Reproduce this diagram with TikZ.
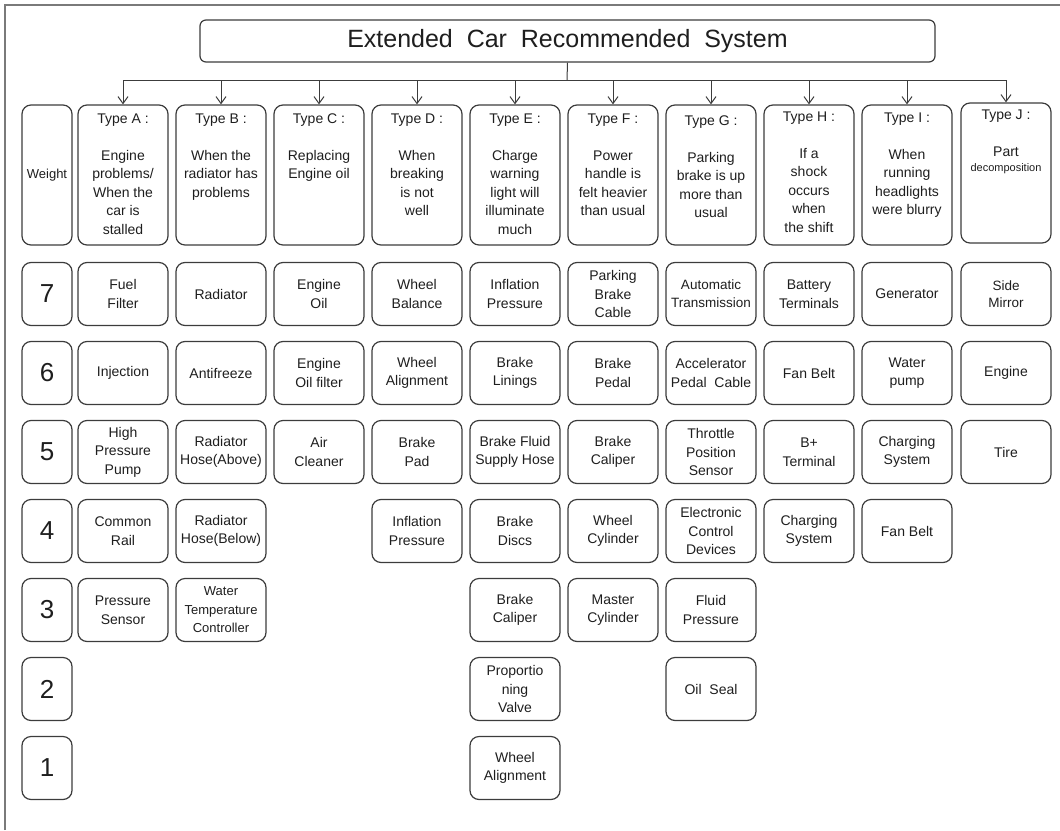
\documentclass[tikz,border=0pt]{standalone}
\usepackage{fontspec}
\setmainfont{Liberation Sans}
\usetikzlibrary{arrows.meta, positioning}
\definecolor{boxline}{HTML}{3C3C3C}
\definecolor{txt}{HTML}{1E1E1E}
\definecolor{frame}{HTML}{7A7A7A}
\newcommand{\fs}[2]{\fontsize{#1}{#2}\selectfont}

\begin{document}
\begin{tikzpicture}[x=1pt, y=-1pt,
    box/.style={draw=boxline, line width=1.2pt, rounded corners=9pt, minimum width=90pt, minimum height=63pt,
        align=center, text=txt, font=\fs{14}{18.5}, inner sep=1pt},
    weightbox/.style={box, minimum width=50pt, font=\fs{26}{30}},
    typebox/.style={box, minimum height=140pt},
    typetext/.style={align=center, text=txt, font=\fs{14}{18.5}, inner sep=0pt},
    link/.style={draw=boxline, line width=1pt},
    arr/.style={link, -{Straight Barb[length=7pt, width=10pt]}},
]
    \useasboundingbox (0,0) rectangle (1060,830);

    % Frame
    \draw[frame, line width=1.2pt] (5,830) -- (5,5) -- (1060,5);

    % Title
    \node[box, minimum width=735pt, minimum height=42pt, rounded corners=6pt, font=\fs{25}{30}] (title) at (567.5,41)
        {Extended\ \ Car\ \ Recommended\ \ System};
    \coordinate (bus) at (567,80);

    % Type headers
    \node[box, minimum width=50pt, minimum height=140pt, font=\fs{13}{16}] (weight) at (47,175) {Weight};
    \node[typebox] (tA) at (123,175) {};
    \node[typebox] (tB) at (221,175) {};
    \node[typebox] (tC) at (319,175) {};
    \node[typebox] (tD) at (417,175) {};
    \node[typebox] (tE) at (515,175) {};
    \node[typebox] (tF) at (613,175) {};
    \node[typebox] (tG) at (711,175) {};
    \node[typebox] (tH) at (809,175) {};
    \node[typebox] (tI) at (907,175) {};
    \node[typebox] (tJ) at (1006,173) {};

    \node[typetext, below=9pt of tA.north] (xA) {Type A :\\[18.5pt]Engine\\problems/\\When the\\car is\\stalled};
    \node[typetext, below=9pt of tB.north] (xB) {Type B :\\[18.5pt]When the\\radiator has\\problems};
    \node[typetext, below=9pt of tC.north] (xC) {Type C :\\[18.5pt]Replacing\\Engine oil};
    \node[typetext, below=9pt of tD.north] (xD) {Type D :\\[18.5pt]When\\breaking\\is not\\well};
    \node[typetext, below=9pt of tE.north] (xE) {Type E :\\[18.5pt]Charge\\warning\\light will\\illuminate\\much};
    \node[typetext, below=9pt of tF.north] (xF) {Type F :\\[18.5pt]Power\\handle is\\felt heavier\\than usual};
    \node[typetext, below=11pt of tG.north] (xG) {Type G :\\[18.5pt]Parking\\brake is up\\more than\\usual};
    \node[typetext, below=7pt of tH.north] (xH) {Type H :\\[18.5pt]If a\\shock\\occurs\\when\\the shift};
    \node[typetext, below=8pt of tI.north] (xI) {Type I :\\[18.5pt]When\\running\\headlights\\were blurry};
    \node[typetext, below=7pt of tJ.north] (xJ) {Type J :\\[18.5pt]Part\\[-3pt]{\fs{11}{13}decomposition}};

    % Connectors
    \draw[link] (title.south) -- (bus);
    \draw[link] (tA|-bus) -- (tJ|-bus);
    \foreach \t in {A,...,J}
        \draw[arr] (t\t|-bus) -- (t\t.north);

    % Weights
    \foreach \w/\y in {7/294, 6/373, 5/452, 4/531, 3/610, 2/689, 1/768}
        \node[weightbox] (w\w) at (47,\y) {\w};

    % Type A
    \node[box] (a7) at (tA|-w7) {Fuel\\Filter};
    \node[box] (a6) at (tA|-w6) {Injection};
    \node[box] (a5) at (tA|-w5) {High\\Pressure\\Pump};
    \node[box] (a4) at (tA|-w4) {Common\\Rail};
    \node[box] (a3) at (tA|-w3) {Pressure\\Sensor};

    % Type B
    \node[box] (b7) at (tB|-w7) {Radiator};
    \node[box] (b6) at (tB|-w6) {Antifreeze};
    \node[box] (b5) at (tB|-w5) {Radiator\\Hose(Above)};
    \node[box] (b4) at (tB|-w4) {Radiator\\Hose(Below)};
    \node[box, font=\fs{13}{18.5}] (b3) at (tB|-w3) {Water\\Temperature\\Controller};

    % Type C
    \node[box] (c7) at (tC|-w7) {Engine\\Oil};
    \node[box] (c6) at (tC|-w6) {Engine\\Oil filter};
    \node[box] (c5) at (tC|-w5) {Air\\Cleaner};

    % Type D
    \node[box] (d7) at (tD|-w7) {Wheel\\Balance};
    \node[box] (d6) at (tD|-w6) {Wheel\\Alignment};
    \node[box] (d5) at (tD|-w5) {Brake\\Pad};
    \node[box] (d4) at (tD|-w4) {Inflation\\Pressure};

    % Type E
    \node[box] (e7) at (tE|-w7) {Inflation\\Pressure};
    \node[box] (e6) at (tE|-w6) {Brake\\Linings};
    \node[box] (e5) at (tE|-w5) {Brake Fluid\\Supply Hose};
    \node[box] (e4) at (tE|-w4) {Brake\\Discs};
    \node[box] (e3) at (tE|-w3) {Brake\\Caliper};
    \node[box] (e2) at (tE|-w2) {Proportio\\ning\\Valve};
    \node[box] (e1) at (tE|-w1) {Wheel\\Alignment};

    % Type F
    \node[box] (f7) at (tF|-w7) {Parking\\Brake\\Cable};
    \node[box] (f6) at (tF|-w6) {Brake\\Pedal};
    \node[box] (f5) at (tF|-w5) {Brake\\Caliper};
    \node[box] (f4) at (tF|-w4) {Wheel\\Cylinder};
    \node[box] (f3) at (tF|-w3) {Master\\Cylinder};

    % Type G
    \node[box, font=\fs{13.5}{18}] (g7) at (tG|-w7) {Automatic\\Transmission};
    \node[box] (g6) at (tG|-w6) {Accelerator\\Pedal\ \ Cable};
    \node[box] (g5) at (tG|-w5) {Throttle\\Position\\Sensor};
    \node[box] (g4) at (tG|-w4) {Electronic\\Control\\Devices};
    \node[box] (g3) at (tG|-w3) {Fluid\\Pressure};
    \node[box] (g2) at (tG|-w2) {Oil\ \ Seal};

    % Type H
    \node[box] (h7) at (tH|-w7) {Battery\\Terminals};
    \node[box] (h6) at (tH|-w6) {Fan Belt};
    \node[box] (h5) at (tH|-w5) {B+\\Terminal};
    \node[box] (h4) at (tH|-w4) {Charging\\System};

    % Type I
    \node[box] (i7) at (tI|-w7) {Generator};
    \node[box] (i6) at (tI|-w6) {Water\\pump};
    \node[box] (i5) at (tI|-w5) {Charging\\System};
    \node[box] (i4) at (tI|-w4) {Fan Belt};

    % Type J
    \node[box, font=\fs{13.5}{17}] (j7) at (tJ|-w7) {Side\\Mirror};
    \node[box] (j6) at (tJ|-w6) {Engine};
    \node[box] (j5) at (tJ|-w5) {Tire};
\end{tikzpicture}
\end{document}
